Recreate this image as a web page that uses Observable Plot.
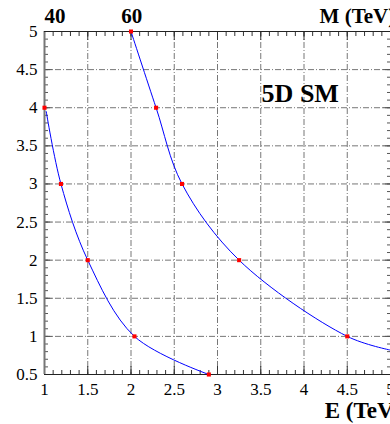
<!DOCTYPE html>
<html><head><meta charset="utf-8">
<script src="https://cdn.jsdelivr.net/npm/d3@7"></script>
<script src="https://cdn.jsdelivr.net/npm/@observablehq/plot@0.6"></script>
<style>body{margin:0;background:#fff}</style>
</head><body><div id="chart"></div>
<script>
// Data
const curve40E = [1, 1.19, 1.5, 2.04, 2.9];
const curve40M = [4, 3, 2, 1, 0.5];
const curve60E = [2, 2.29, 2.59, 3.25, 4.5];
const curve60M = [5, 4, 3, 2, 1];
const line40E = [1.02, 1.19, 1.5, 2.04, 2.9];
const line40M = [3.95, 3, 2, 1, 0.5];
const line60E = [2, 2.29, 2.59, 3.25, 4.5, 5];
const line60M = [5, 4, 3, 2, 1, 0.82];
const xTicks = [1, 1.5, 2, 2.5, 3, 3.5, 4, 4.5, 5];
const yTicks = [0.5, 1, 1.5, 2, 2.5, 3, 3.5, 4, 4.5, 5];
const xMinor = [1,1.1,1.2,1.3,1.4,1.5,1.6,1.7,1.8,1.9,2,2.1,2.2,2.3,2.4,2.5,2.6,2.7,2.8,2.9,3,3.1,3.2,3.3,3.4,3.5,3.6,3.7,3.8,3.9,4,4.1,4.2,4.3,4.4,4.5,4.6,4.7,4.8,4.9,5];
const yMinor = [0.5,0.6,0.7,0.8,0.9,1,1.1,1.2,1.3,1.4,1.5,1.6,1.7,1.8,1.9,2,2.1,2.2,2.3,2.4,2.5,2.6,2.7,2.8,2.9,3,3.1,3.2,3.3,3.4,3.5,3.6,3.7,3.8,3.9,4,4.1,4.2,4.3,4.4,4.5,4.6,4.7,4.8,4.9,5];
const curveLabels = ["40", "60"];
const curveLabelX = [1.12, 2.01];
const yTitle = "M (TeV)";
const xTitle = "E (TeV)";
const note = "5D SM";

const pts = (E, M) => E.map((e, i) => ({E: e, M: M[i]}));
const grid = {stroke: "#777", strokeOpacity: 1, strokeWidth: 1, strokeDasharray: "6,2,1,2"};
const serif = "'Liberation Serif', 'Times New Roman', Times, serif";
const tk = {text: null, label: null};
const lab = {tickSize: 0, fontSize: 17, fill: "#000", fontFamily: serif, tickFormat: d => String(d), label: null};
const bold = {fontWeight: "bold", fill: "#000", fontFamily: serif, lineAnchor: "bottom"};

const chart = Plot.plot({
  width: 390, height: 424,
  marginLeft: 44, marginRight: 0, marginTop: 31, marginBottom: 50,
  style: {fontFamily: serif, background: "#fff", overflow: "hidden"},
  x: {domain: [1, 5]},
  y: {domain: [0.5, 5]},
  marks: [
    Plot.gridX(xTicks.slice(1, -1), grid),
    Plot.gridY(yTicks.slice(1, -1), grid),
    Plot.axisX(xMinor, {anchor: "bottom", tickSize: -4, stroke: "#333", ...tk}),
    Plot.axisX(xTicks, {anchor: "bottom", tickSize: -8, stroke: "#333", ...tk}),
    Plot.axisX(xTicks, {anchor: "bottom", tickPadding: 8, ...lab}),
    Plot.axisX(xMinor, {anchor: "top", tickSize: -4, stroke: "#333", ...tk}),
    Plot.axisX(xTicks, {anchor: "top", tickSize: -8, stroke: "#333", ...tk}),
    Plot.axisY(yMinor, {anchor: "left", tickSize: -4, stroke: "#555", ...tk}),
    Plot.axisY(yTicks, {anchor: "left", tickSize: -8, stroke: "#555", ...tk}),
    Plot.axisY(yTicks, {anchor: "left", tickPadding: 7, ...lab}),
    Plot.axisY(yMinor, {anchor: "right", tickSize: -4, stroke: "#555", ...tk}),
    Plot.axisY(yTicks, {anchor: "right", tickSize: -8, stroke: "#555", ...tk}),
    Plot.ruleX([1], {stroke: "#777", strokeWidth: 2}),
    Plot.ruleY([0.5], {stroke: "#222", strokeWidth: 1.2}),
    Plot.ruleY([5], {stroke: "#222", strokeWidth: 1.2}),
    Plot.line(pts(line40E, line40M), {x: "E", y: "M", stroke: "#0000ff", strokeWidth: 1, curve: "catmull-rom"}),
    Plot.line(pts(line60E, line60M), {x: "E", y: "M", stroke: "#0000ff", strokeWidth: 1, curve: "catmull-rom"}),
    Plot.dot(pts(curve40E, curve40M), {x: "E", y: "M", symbol: "square", r: 2.3, fill: "#ff0000", stroke: null}),
    Plot.dot(pts(curve60E, curve60M), {x: "E", y: "M", symbol: "square", r: 2.3, fill: "#ff0000", stroke: null}),
    Plot.text(curveLabels, {x: (d, i) => curveLabelX[i], y: 5, text: d => d, dy: -9, fontSize: 21, ...bold}),
    Plot.text([yTitle], {x: 4.18, y: 5, text: d => d, dy: -9, textAnchor: "start", fontSize: 21, ...bold}),
    Plot.text([xTitle], {x: 4.24, y: 0.5, text: d => d, dy: 43, textAnchor: "start", fontSize: 23, ...bold}),
    Plot.text([note], {x: 3.51, y: 4.07, text: d => d, textAnchor: "start", fontSize: 26, ...bold})
  ]
});
document.getElementById("chart").appendChild(chart);
</script>
</body></html>
